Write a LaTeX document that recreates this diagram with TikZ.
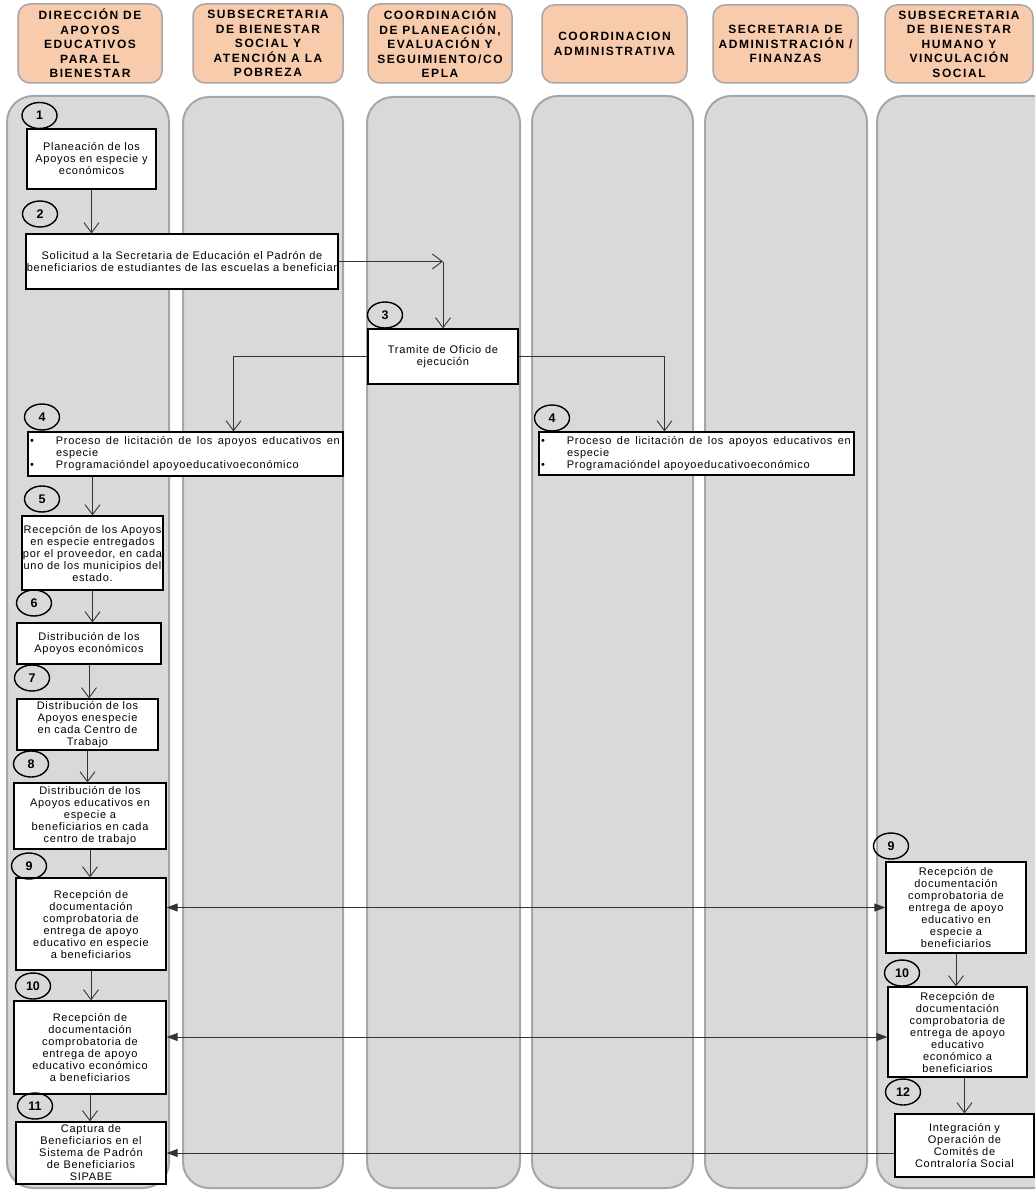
\documentclass[tikz,border=0pt]{standalone}
\usepackage{fontspec}
\setmainfont{Liberation Sans}
\newfontfamily\boxfont[LetterSpace=6.5]{Liberation Sans}
\newfontfamily\headfont[LetterSpace=13]{Liberation Sans}
\usetikzlibrary{shapes.geometric,arrows.meta}
\definecolor{lanegray}{HTML}{D9D9D9}
\definecolor{laneline}{HTML}{A6A6A6}
\definecolor{headfill}{HTML}{F8CBAD}
\definecolor{flowline}{HTML}{333333}

\begin{document}
\begin{tikzpicture}[x=1pt,y=-1pt,
		lane/.style={draw=laneline,fill=lanegray,line width=2pt,rounded corners=26pt},
		head/.style={draw=laneline,fill=headfill,line width=1.5pt,rounded corners=12pt,align=center,inner sep=0pt,font=\headfont\bfseries\fontsize{12}{14.5}\selectfont},
		task/.style={draw,fill=white,line width=1.3pt,align=center,inner sep=1pt,font=\boxfont\fontsize{11}{12}\selectfont},
		num/.style={ellipse,draw,line width=1.4pt,minimum width=35pt,minimum height=26pt,inner sep=0pt,font=\bfseries\fontsize{12.5}{13}\selectfont},
		flow/.style={draw=flowline,line width=0.9pt,-{Straight Barb[length=10pt,width=15pt]}},
		link/.style={draw=flowline,line width=0.9pt,{Triangle[length=11pt,width=8pt]}-{Triangle[length=11pt,width=8pt]}}]
		\clip (0,0) rectangle (1035,1190);
		% lanes
		\draw[lane] (7,96) rectangle (169,1188);
		\draw[lane] (183,97) rectangle (343,1188);
		\draw[lane] (367,97) rectangle (520,1188);
		\draw[lane] (532,96) rectangle (693,1188);
		\draw[lane] (705,96) rectangle (867,1188);
		\draw[lane] (877,96) rectangle (1060,1188);
		% headers
		\node[head,minimum width=144pt,minimum height=79pt] (h1) at (90,43.5) {DIRECCIÓN DE\\APOYOS\\EDUCATIVOS\\PARA EL\\BIENESTAR};
		\node[head,minimum width=150pt,minimum height=79pt] (h2) at (268,43.5) {SUBSECRETARIA\\DE BIENESTAR\\SOCIAL Y\\ATENCIÓN A LA\\POBREZA};
		\node[head,minimum width=144pt,minimum height=79pt] (h3) at (440,43.5) {COORDINACIÓN\\DE PLANEACIÓN,\\EVALUACIÓN Y\\SEGUIMIENTO/CO\\EPLA};
		\node[head,minimum width=145pt,minimum height=78pt] (h4) at (614.5,44) {COORDINACION\\ADMINISTRATIVA};
		\node[head,minimum width=145pt,minimum height=78pt] (h5) at (785.5,44) {SECRETARIA DE\\ADMINISTRACIÓN /\\FINANZAS};
		\node[head,minimum width=148pt,minimum height=78pt] (h6) at (959,44) {SUBSECRETARIA\\DE BIENESTAR\\HUMANO Y\\VINCULACIÓN\\SOCIAL};
		% tasks
		\node[task,minimum width=129pt,minimum height=60pt] (b1) at (91.5,159) {Planeación de los\\Apoyos en especie y\\económicos};
		\node[task,minimum width=310pt,minimum height=55pt] (b2) at (182,261.5) {Solicitud a la Secretaria de Educación el Padrón de\\beneficiarios de estudiantes de las escuelas a beneficiar};
		\node[task,minimum width=150pt,minimum height=55pt] (b3) at (443,356.5) {Tramite de Oficio de\\ejecución};
		\node[task,align=left,minimum width=315pt,minimum height=44pt] (b4l) at (185.5,454) {\makebox[311pt][l]{\textbullet\hspace{22pt}\makebox[284pt][s]{Proceso de licitación de los apoyos educativos en}}\\\makebox[311pt][l]{\hspace{26pt}especie}\\\makebox[311pt][l]{\textbullet\hspace{22pt}Programacióndel apoyoeducativoeconómico}};
		\node[task,align=left,minimum width=315pt,minimum height=43pt] (b4r) at (696.5,453.5) {\makebox[311pt][l]{\textbullet\hspace{22pt}\makebox[284pt][s]{Proceso de licitación de los apoyos educativos en}}\\\makebox[311pt][l]{\hspace{26pt}especie}\\\makebox[311pt][l]{\textbullet\hspace{22pt}Programacióndel apoyoeducativoeconómico}};
		\node[task,minimum width=141pt,minimum height=74pt] (b5) at (92.5,553) {Recepción de los Apoyos\\en especie entregados\\por el proveedor, en cada\\uno de los municipios del\\estado.};
		\node[task,minimum width=144pt,minimum height=41pt] (b6) at (89,643.5) {Distribución de los\\Apoyos económicos};
		\node[task,minimum width=141pt,minimum height=51pt] (b7) at (87.5,724.5) {Distribución de los\\Apoyos enespecie\\en cada Centro de\\Trabajo};
		\node[task,minimum width=152pt,minimum height=66pt] (b8) at (90,816) {Distribución de los\\Apoyos educativos en\\especie a\\beneficiarios en cada\\centro de trabajo};
		\node[task,minimum width=150pt,minimum height=92pt] (b9l) at (91,924) {Recepción de\\documentación\\comprobatoria de\\entrega de apoyo\\educativo en especie\\a beneficiarios};
		\node[task,minimum width=152pt,minimum height=93pt] (b10l) at (90,1047.5) {Recepción de\\documentación\\comprobatoria de\\entrega de apoyo\\educativo económico\\a beneficiarios};
		\node[task,minimum width=150pt,minimum height=62pt] (b11) at (91,1153) {Captura de\\Beneficiarios en el\\Sistema de Padrón\\de Beneficiarios\\SIPABE};
		\node[task,minimum width=140pt,minimum height=91pt] (b9r) at (956,907.5) {Recepción de\\documentación\\comprobatoria de\\entrega de apoyo\\educativo en\\especie a\\beneficiarios};
		\node[task,minimum width=139pt,minimum height=90pt] (b10r) at (957.5,1032) {Recepción de\\documentación\\comprobatoria de\\entrega de apoyo\\educativo\\económico a\\beneficiarios};
		\node[task,minimum width=139pt,minimum height=63pt] (b12) at (964.5,1145.5) {Integración y\\Operación de\\Comités de\\Contraloría Social};
		% step numbers
		\node[num] (n1) at (39.5,115.5) {1};
		\node[num] (n2) at (40,214) {2};
		\node[num] (n3) at (385,315) {3};
		\node[num] (n4l) at (42,417) {4};
		\node[num] (n4r) at (552,418) {4};
		\node[num] (n5) at (42,499) {5};
		\node[num] (n6) at (34,603) {6};
		\node[num] (n7) at (32,678) {7};
		\node[num] (n8) at (31,764) {8};
		\node[num] (n9l) at (29,866) {9};
		\node[num] (n10l) at (33,986) {10};
		\node[num] (n11) at (35,1106) {11};
		\node[num] (n9r) at (891,846) {9};
		\node[num] (n10r) at (902,973) {10};
		\node[num] (n12) at (903,1092) {12};
		% connectors
		\draw[flow] (b1.south) -- (b1.south |- b2.north);
		\draw[flow] (b2.east) -- (b2.east -| b3.north);
		\draw[flow] (b2.east -| b3.north) -- (b3.north);
		\draw[flow] (b3.west) -| ([xshift=48pt]b4l.north);
		\draw[flow] (b3.east) -| ([xshift=-32pt]b4r.north);
		\draw[flow] (b4l.south -| b5.north) -- (b5.north);
		\draw[flow] (b5.south) -- (b5.south |- b6.north);
		\draw[flow] (b6.south) -- (b6.south |- b7.north);
		\draw[flow] (b7.south) -- (b7.south |- b8.north);
		\draw[flow] (b8.south) -- (b8.south |- b9l.north);
		\draw[flow] (b9l.south) -- (b9l.south |- b10l.north);
		\draw[flow] (b10l.south) -- (b10l.south |- b11.north);
		\draw[flow] (b9r.south) -- (b9r.south |- b10r.north);
		\draw[flow] (b10r.south -| b12.north) -- (b12.north);
		\draw[link] (b9r.west -| b9l.east) -- (b9r.west);
		\draw[link] ([yshift=-5pt]b10r.west -| b10l.east) -- ([yshift=-5pt]b10r.west);
		\draw[draw=flowline,line width=0.9pt,-{Triangle[length=11pt,width=8pt]}] (b12.west |- b11.east) -- (b11.east);
	\end{tikzpicture}
\end{document}
